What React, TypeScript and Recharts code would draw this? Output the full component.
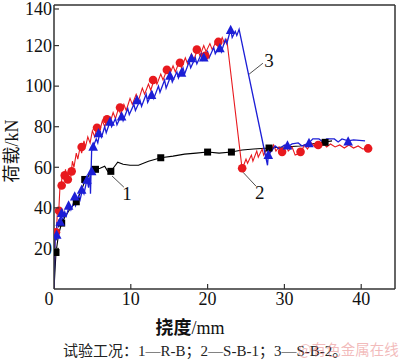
import React from 'react';
import { ComposedChart, Line, Scatter, XAxis, YAxis, ReferenceLine, ReferenceDot } from 'recharts';

const xTicks = [0, 10, 20, 30, 40];
const yTicks = [0, 20, 40, 60, 80, 100, 120, 140];

// Curve 1: R-B (black, squares)
const curve1 = [
  [0, 0], [0.26, 18], [0.6, 27], [1.0, 32.5], [1.5, 36], [2.0, 39], [2.9, 43], [3.5, 48], [4.0, 53],
  [4.7, 57], [5.4, 59], [6.0, 59.5], [6.6, 60.5], [7.0, 58], [7.4, 58], [7.8, 60], [8.3, 62.5],
  [9.0, 61.5], [9.9, 61], [11.0, 61], [12.3, 63], [13.9, 64.7], [15.5, 65.5], [17.0, 66.5],
  [18.5, 67], [20.0, 67.5], [21.5, 67], [23.1, 67.5], [24.5, 68.5], [26, 69], [28, 69.5],
  [30, 70], [32, 70.5], [33.5, 71.5], [35.3, 72.5], [36.2, 73],
].map(([x, y]) => ({ x, y }));
const marks1 = [
  [0.26, 18], [1.0, 32.5], [2.9, 43], [4.0, 54], [5.4, 59], [7.4, 58], [13.9, 64.7], [20, 67.5],
  [23.1, 67.5], [28, 69.5], [35.3, 72.3],
].map(([x, y]) => ({ x, y }));

// Curve 2: S-B-1 (red, circles)
const curve2 = [
  [0, 0], [0.15, 29], [0.3, 27], [0.45, 39], [0.6, 37], [0.8, 52], [0.9, 50], [1.1, 57], [1.3, 55],
  [1.5, 59], [1.7, 53], [1.9, 58], [2.2, 56], [2.4, 63], [2.6, 60], [2.9, 67], [3.1, 64], [3.4, 70],
  [3.6, 67], [3.9, 73], [4.1, 70], [4.4, 75], [4.7, 72], [5.0, 78], [5.3, 75], [5.6, 80], [5.9, 77],
  [6.3, 83], [6.6, 80], [7.0, 85], [7.3, 82], [7.7, 87], [8.0, 84], [8.4, 89], [8.7, 86], [9.1, 91],
  [9.4, 88], [9.9, 94], [10.2, 91], [10.7, 96], [11.0, 93], [11.5, 99], [11.8, 96], [12.3, 101],
  [12.6, 98], [13.1, 104], [13.4, 101], [13.9, 106], [14.2, 103], [14.7, 108], [15.0, 105],
  [15.5, 110], [15.8, 107], [16.3, 112], [16.6, 109], [17.1, 114], [17.4, 111], [17.9, 116],
  [18.2, 113], [18.7, 118], [19.0, 115], [19.5, 120], [19.8, 117], [20.3, 121], [20.6, 118],
  [21.1, 122], [21.4, 119], [21.9, 124], [22.2, 121], [22.5, 123], [24.5, 59], [25.0, 64],
  [25.2, 62], [25.7, 66], [25.9, 63], [26.4, 68], [26.6, 65], [27.1, 69], [27.3, 66], [27.8, 70],
  [28.1, 67], [28.6, 71], [28.9, 68], [29.3, 70], [29.7, 67], [30.2, 71], [30.5, 68], [31.0, 70],
  [31.4, 66], [32.1, 67], [32.6, 71], [33.0, 69], [33.5, 72], [34.0, 70], [34.4, 71], [35.0, 72],
  [35.5, 70], [36.0, 71.5], [36.6, 70], [37.2, 71], [37.8, 69.5], [38.4, 71], [39.0, 69.5],
  [39.6, 70.5], [40.2, 69], [40.9, 69.3],
].map(([x, y]) => ({ x, y }));
const marks2 = [
  [0.26, 28], [0.65, 38.6], [1.0, 51], [1.4, 56], [1.8, 54], [2.3, 58], [3.6, 70], [5.6, 79.5],
  [6.9, 83.6], [8.6, 89.5], [12.9, 103], [14.7, 108], [16.4, 111.5], [18.6, 118], [19.7, 115],
  [21.4, 121.8], [24.5, 59.5], [29.7, 67.6], [32.1, 67.6], [34.4, 71], [40.9, 69.3],
].map(([x, y]) => ({ x, y }));

// Curve 3: S-B-2 (blue, triangles)
const curve3 = [
  [0, 0], [0.15, 26], [0.3, 24], [0.4, 33], [0.6, 31], [0.9, 36], [1.1, 34], [1.4, 38], [1.6, 36],
  [2.0, 41], [2.2, 39], [2.6, 43], [2.8, 41], [3.2, 46], [3.4, 44], [3.7, 49], [3.9, 47], [4.3, 54],
  [4.5, 50], [4.7, 56], [4.75, 47], [4.9, 68], [5.1, 70], [5.5, 74], [5.7, 72], [6.0, 78], [6.2, 75],
  [6.6, 80], [6.8, 77], [7.3, 82.5], [7.5, 80], [8.0, 84], [8.2, 81], [8.8, 86], [9.0, 83],
  [9.6, 89], [9.8, 86], [10.4, 91], [10.6, 88], [11.2, 93], [11.4, 90], [12.0, 96], [12.2, 92],
  [12.8, 97], [13.0, 94], [13.6, 100], [13.8, 97], [14.4, 103], [14.6, 99], [15.2, 105],
  [15.4, 102], [16.0, 107], [16.2, 104], [16.8, 109], [17.0, 106], [17.6, 112], [17.8, 109],
  [18.4, 114], [18.6, 111], [19.2, 116], [19.4, 113], [20.0, 117], [20.2, 114], [20.8, 119],
  [21.0, 116], [21.6, 120], [21.8, 117], [22.3, 123], [22.5, 121], [23.0, 128], [23.2, 124],
  [23.6, 127], [23.8, 125], [24.1, 128], [27.8, 61], [27.9, 66], [28.3, 68], [28.8, 70.5],
  [29.3, 69], [30.0, 71], [30.4, 70], [31.0, 71.5], [31.8, 72], [32.3, 70.5], [33.2, 72],
  [33.7, 74], [34.5, 74], [35.0, 72.5], [35.5, 74], [36.5, 74], [37.0, 72.5], [37.5, 74],
  [38.3, 73], [39.0, 73.5], [40.5, 73],
].map(([x, y]) => ({ x, y }));
const marks3 = [
  [0.35, 26.6], [0.8, 33], [1.0, 37.4], [1.9, 41], [2.7, 45.5], [3.6, 48.8], [4.3, 53.7],
  [4.9, 58], [5.1, 70], [5.8, 76.7], [7.3, 82.4], [8.8, 84.9], [10.8, 93], [12.7, 95.5],
  [15.1, 105], [16.6, 106.5], [17.9, 113.6], [19.5, 114], [21.6, 118.6], [23.0, 127.6],
  [27.9, 66], [30.4, 70.6], [33.2, 71.8], [38.3, 72.6],
].map(([x, y]) => ({ x, y }));

const curveLabels = ['1', '2', '3'];
const labelPos = [[9.5, 47.3], [26.8, 47.8], [28.0, 112.8]];
const leaders = [
  [[7.56, 55.7], [9.1, 50.2]],
  [[24.6, 57.6], [26.3, 50.7]],
  [[25.4, 105.9], [27.2, 111.3]],
];

const RED = '#e8191e';
const BLUE = '#1c1ed6';
const BLACK = '#000000';
const FONT = '"Liberation Serif", "Times New Roman", serif';
const CJK = '"Noto Sans CJK SC", "Liberation Serif", serif';

const Square = (p: any) => <rect x={p.cx - 3.5} y={p.cy - 3.5} width={7} height={7} fill={BLACK} />;
const Circle = (p: any) => <circle cx={p.cx} cy={p.cy} r={4.3} fill={RED} />;
const Tri = (p: any) => (
  <polygon points={`${p.cx},${p.cy - 5.5} ${p.cx - 4.8},${p.cy + 3.8} ${p.cx + 4.8},${p.cy + 3.8}`} fill={BLUE} />
);

const XTick = (p: any) => {
  const v = p.payload.value;
  return (
    <g>
      {v !== 0 && <line x1={p.x} x2={p.x} y1={p.y - 4} y2={p.y - 9} stroke="#333" strokeWidth={1.2} />}
      <text x={v === 0 ? p.x - 5 : p.x} y={p.y - 1} dy="0.72em" textAnchor="middle" fontSize={18} fontFamily={FONT} fill="#111">
        {v}
      </text>
    </g>
  );
};
const YTick = (p: any) => {
  const v = p.payload.value;
  if (v === 0) return <g />;
  return (
    <g>
      <line x1={p.x + 2} x2={p.x + 7} y1={p.y} y2={p.y} stroke="#333" strokeWidth={1.2} />
      <text x={p.x} y={p.y} dy="0.35em" textAnchor="end" fontSize={18} fontFamily={FONT} fill="#111">
        {v}
      </text>
    </g>
  );
};

export default function App() {
  return (
    <div style={{ position: 'absolute', left: 0, top: 0, width: 400, height: 361, background: '#fff', overflow: 'hidden' }}>
      <ComposedChart width={400} height={361} margin={{ top: 5, right: 5, left: 0, bottom: 42 }}>
        <XAxis
          type="number"
          dataKey="x"
          domain={[0, 44.4]}
          ticks={xTicks}
          allowDataOverflow
          height={30}
          tickSize={0}
          tickMargin={4}
          tickLine={false}
          tick={<XTick />}
          axisLine={{ stroke: '#333', strokeWidth: 1.5 }}
        />
        <YAxis
          type="number"
          domain={[0, 140]}
          ticks={yTicks}
          width={54}
          tickSize={0}
          tickMargin={2}
          tickLine={false}
          tick={<YTick />}
          axisLine={{ stroke: '#333', strokeWidth: 1.5 }}
        />
        <ReferenceLine y={140} stroke="#333" strokeWidth={1.5} />
        <ReferenceLine x={44.4} stroke="#333" strokeWidth={1.5} />
        <Line data={curve1} dataKey="y" stroke={BLACK} strokeWidth={1.1} dot={false} isAnimationActive={false} />
        <Line data={curve2} dataKey="y" stroke={RED} strokeWidth={1.1} dot={false} isAnimationActive={false} />
        <Line data={curve3} dataKey="y" stroke={BLUE} strokeWidth={1.3} dot={false} isAnimationActive={false} />
        <Scatter data={marks1} dataKey="y" shape={Square} isAnimationActive={false} />
        <Scatter data={marks2} dataKey="y" shape={Circle} isAnimationActive={false} />
        <Scatter data={marks3} dataKey="y" shape={Tri} isAnimationActive={false} />
        {leaders.map((seg, i) => (
          <ReferenceLine
            key={'l' + i}
            segment={[{ x: seg[0][0], y: seg[0][1] }, { x: seg[1][0], y: seg[1][1] }]}
            stroke="#222"
            strokeWidth={0.8}
          />
        ))}
        {curveLabels.map((t, i) => (
          <ReferenceDot
            key={'t' + i}
            x={labelPos[i][0]}
            y={labelPos[i][1]}
            r={0}
            shape={(p: any) => (
              <text x={p.cx} y={p.cy} dy="0.35em" textAnchor="middle" fontSize={19} fontFamily={FONT} fill="#111">
                {t}
              </text>
            )}
          />
        ))}
      </ComposedChart>
      <div
        style={{
          position: 'absolute', left: 190, top: 327, transform: 'translate(-50%, -50%)', whiteSpace: 'nowrap',
          fontSize: 18, fontFamily: CJK, color: '#111', lineHeight: 1,
        }}
      >
        <span style={{ fontWeight: 700 }}>挠度</span><span style={{ fontFamily: FONT }}>/mm</span>
      </div>
      <div
        style={{
          position: 'absolute', left: 11, top: 151, transform: 'translate(-50%, -50%) rotate(-90deg)', whiteSpace: 'nowrap',
          fontSize: 18, fontFamily: CJK, color: '#111', lineHeight: 1,
        }}
      >
        <span>荷载</span><span style={{ fontFamily: FONT }}>/kN</span>
      </div>
      <div
        style={{
          position: 'absolute', left: 63, top: 342, whiteSpace: 'nowrap',
          fontSize: 15, fontFamily: CJK, color: '#222', lineHeight: 1,
        }}
      >
        试验工况：<span style={{ fontFamily: FONT }}>1—R-B</span>；<span style={{ fontFamily: FONT }}>2—S-B-1</span>；<span style={{ fontFamily: FONT }}>3—S-B-2</span>。
      </div>
      <div
        style={{
          position: 'absolute', left: 298, top: 342, whiteSpace: 'nowrap',
          fontSize: 14.5, fontFamily: CJK, color: 'rgba(230,120,120,0.5)', lineHeight: 1,
        }}
      >
        @有色金属在线
      </div>
    </div>
  );
}
